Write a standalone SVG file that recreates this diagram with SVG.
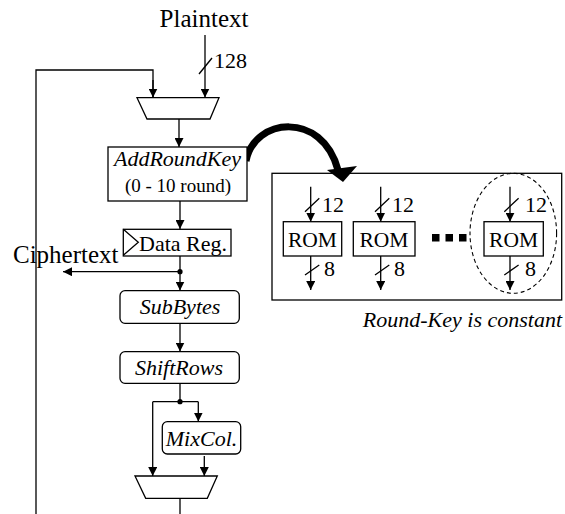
<svg xmlns="http://www.w3.org/2000/svg" width="565" height="514" viewBox="0 0 565 514">
<style>
  .ln{fill:none;stroke:#000;stroke-width:1.3}
  .bx{fill:#fff;stroke:#000;stroke-width:1.3}
  .ob{fill:none;stroke:#000;stroke-width:1.3}
  .t{font-family:"Liberation Serif","Times New Roman",serif;fill:#000}
  .i{font-style:italic}
  .arr{marker-end:url(#ah)}
</style>
<defs>
  <marker id="ah" markerUnits="userSpaceOnUse" markerWidth="9" markerHeight="9" refX="9" refY="4.5" orient="auto">
    <path d="M0,0 L9,4.5 L0,9 z" fill="#000"/>
  </marker>
</defs>
<rect width="565" height="514" fill="#fff"/>

<g id="roundkey-panel">
  <rect class="ob" x="272" y="173.3" width="289.7" height="126.7"/>
  <ellipse cx="513.3" cy="233.3" rx="43.3" ry="60" fill="none" stroke="#000" stroke-width="1.1" stroke-dasharray="4,3"/>
  <rect x="432" y="234" width="7.5" height="7.5" fill="#000"/>
  <rect x="445.5" y="234" width="7.5" height="7.5" fill="#000"/>
  <rect x="459" y="234" width="7.5" height="7.5" fill="#000"/>
  <text class="t i" x="562" y="326.5" font-size="22" text-anchor="end">Round-Key is constant</text>
</g>

<g id="connectors">
  <path class="ln" d="M36,514 V70 H153 V97"/>
  <path class="ln arr" d="M153,80 V97.5"/>
  <path class="ln arr" d="M205,35 V97.5"/>
  <path class="ln" d="M199,74 L212,58"/>
  <path class="ln arr" d="M179,119 V147"/>
  <path class="ln arr" d="M180,201 V229"/>
  <path class="ln arr" d="M180,256 V290.5"/>
  <path class="ln arr" d="M180,271.7 H63"/>
  <circle cx="180" cy="271.7" r="2.6" fill="#000"/>
  <path class="ln arr" d="M180,323.5 V351.5"/>
  <path class="ln" d="M180,383.5 V401.7 M152.7,401.7 H198.3"/>
  <circle cx="180" cy="401.7" r="2.6" fill="#000"/>
  <path class="ln arr" d="M152.7,401.7 V476"/>
  <path class="ln arr" d="M198.3,401.7 V421.5"/>
  <path class="ln arr" d="M204.3,456 V476"/>
  <path class="ln" d="M180,498.3 V514"/>
  <path d="M246,161 C254,118 322,110 338,170" fill="none" stroke="#000" stroke-width="7"/>
  <polygon points="327,170 357,166 343,182" fill="#000"/>
  <path class="ln arr" d="M310.7,186.7 V221.7"/>
  <path class="ln arr" d="M310.7,256 V290"/>
  <path class="ln" d="M305,211.7 L319.3,198.3 M305,275 L319.3,265"/>
  <path class="ln arr" d="M380.7,186.7 V221.7"/>
  <path class="ln arr" d="M380.7,256 V290"/>
  <path class="ln" d="M375,211.7 L389.3,198.3 M375,275 L389.3,265"/>
  <path class="ln arr" d="M510,186.7 V221.7"/>
  <path class="ln arr" d="M510,256 V290"/>
  <path class="ln" d="M504.3,211.7 L518.6,198.3 M504.3,275 L518.6,265"/>
</g>

<g id="plaintext"><text class="t" x="204" y="27" font-size="25" text-anchor="middle">Plaintext</text></g>
<g id="label-128"><text class="t" x="214" y="68" font-size="22">128</text></g>

<g id="mux1"><polygon class="bx" points="137,97.7 219,97.7 210,119 147,119"/></g>

<g id="addroundkey">
  <rect class="bx" x="108" y="147" width="139" height="54"/>
  <text class="t i" x="177.5" y="166" font-size="22" text-anchor="middle">AddRoundKey</text>
  <text class="t" x="178" y="191.5" font-size="19" text-anchor="middle">(0 - 10 round)</text>
</g>

<g id="datareg">
  <rect class="bx" x="123.3" y="229.3" width="107.7" height="26.7"/>
  <path class="ln" d="M123.3,229.3 L138.3,242.3 L123.3,255.3"/>
  <text class="t" x="183" y="251" font-size="22" text-anchor="middle">Data Reg.</text>
</g>

<g id="ciphertext"><text class="t" x="13" y="263" font-size="25">Ciphertext</text></g>

<g id="subbytes">
  <rect class="bx" x="120" y="290.7" width="119.3" height="32.6" rx="5"/>
  <text class="t i" x="180" y="313.5" font-size="22" text-anchor="middle">SubBytes</text>
</g>

<g id="shiftrows">
  <rect class="bx" x="120" y="351.7" width="119.3" height="31.6" rx="5"/>
  <text class="t i" x="179" y="374.5" font-size="22" text-anchor="middle">ShiftRows</text>
</g>

<g id="mixcol">
  <rect class="bx" x="162.3" y="421.7" width="78.4" height="32.3" rx="5"/>
  <text class="t i" x="201.5" y="445.5" font-size="22" text-anchor="middle">MixCol.</text>
</g>

<g id="mux2"><polygon class="bx" points="135,476 217.3,476 207.3,498.3 145.7,498.3"/></g>

<g id="rom1">
  <rect class="bx" x="283.3" y="221.7" width="58.4" height="34.3"/>
  <text class="t" x="312.5" y="247" font-size="21.5" text-anchor="middle">ROM</text>
  <text class="t" x="322" y="212" font-size="22">12</text>
  <text class="t" x="324" y="275.5" font-size="22">8</text>
</g>
<g id="rom2">
  <rect class="bx" x="353.3" y="221.7" width="61.7" height="34.3"/>
  <text class="t" x="384" y="247" font-size="21.5" text-anchor="middle">ROM</text>
  <text class="t" x="392" y="212" font-size="22">12</text>
  <text class="t" x="394" y="275.5" font-size="22">8</text>
</g>
<g id="rom3">
  <rect class="bx" x="484" y="221.7" width="59.3" height="34.3"/>
  <text class="t" x="513.6" y="247" font-size="21.5" text-anchor="middle">ROM</text>
  <text class="t" x="525" y="212" font-size="22">12</text>
  <text class="t" x="525" y="275.5" font-size="22">8</text>
</g>
</svg>
